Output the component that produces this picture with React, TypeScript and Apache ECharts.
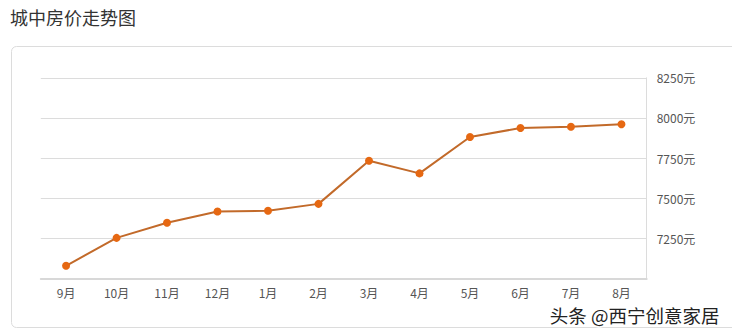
import React, { useEffect, useRef } from "react";
import * as echarts from "echarts";

const titleText = "城中房价走势图";
const watermark = "头条 @西宁创意家居";
const months = ["9月", "10月", "11月", "12月", "1月", "2月", "3月", "4月", "5月", "6月", "7月", "8月"];
const prices = [7078, 7252, 7346, 7416, 7421, 7464, 7733, 7654, 7881, 7937, 7945, 7960];
const yMin = 7000;
const yMax = 8250;
const yStep = 250;
const unit = "元";

const FONT = "'Noto Sans CJK SC', 'Noto Sans', sans-serif";

export default function App() {
  const ref = useRef<HTMLDivElement>(null);
  useEffect(() => {
    if (!ref.current) return;
    const chart = echarts.init(ref.current, undefined, { renderer: "svg" });
    chart.setOption({
      animation: false,
      backgroundColor: "#ffffff",
      textStyle: { fontFamily: FONT },
      title: {
        text: titleText,
        left: 10,
        top: 8,
        padding: 0,
        textStyle: { fontSize: 18, fontWeight: "normal", color: "#333", fontFamily: FONT },
      },
      graphic: [
        {
          type: "rect",
          z: -10,
          silent: true,
          shape: { x: 11.5, y: 46.5, width: 740, height: 281, r: 5 },
          style: { fill: "#fff", stroke: "#dcdcdc", lineWidth: 1 },
        },
        {
          type: "text",
          z: 100,
          right: 11,
          top: 304,
          style: {
            text: watermark,
            font: `18.5px ${FONT}`,
            fill: "#222",
            stroke: "#fff",
            lineWidth: 3,
          },
        },
      ],
      grid: { left: 40.8, right: 85.3, top: 77.8, bottom: 57.7 },
      xAxis: {
        type: "category",
        data: months,
        boundaryGap: true,
        axisLine: { lineStyle: { color: "#d8d8d8", width: 2 } },
        axisTick: { alignWithLabel: true, length: 3, inside: true, lineStyle: { color: "#d8d8d8" } },
        axisLabel: { color: "#555", fontSize: 12, margin: 8, fontFamily: FONT },
        splitLine: { show: false },
      },
      yAxis: {
        type: "value",
        position: "right",
        min: yMin,
        max: yMax,
        interval: yStep,
        axisLine: { show: true, lineStyle: { color: "#dcdcdc" } },
        axisTick: { show: false },
        axisLabel: {
          color: "#555",
          fontSize: 12,
          margin: 10,
          showMinLabel: false,
          fontFamily: FONT,
          formatter: (v: number) => `${v}${unit}`,
        },
        splitLine: { lineStyle: { color: "#dcdcdc" } },
      },
      series: [
        {
          type: "line",
          data: prices,
          symbol: "circle",
          symbolSize: 8,
          lineStyle: { color: "#c26a2a", width: 2 },
          itemStyle: { color: "#e66812" },
        },
      ],
    });
    return () => chart.dispose();
  }, []);
  return (
    <div
      ref={ref}
      style={{ position: "fixed", left: 0, top: 0, width: 732, height: 336 }}
    />
  );
}
